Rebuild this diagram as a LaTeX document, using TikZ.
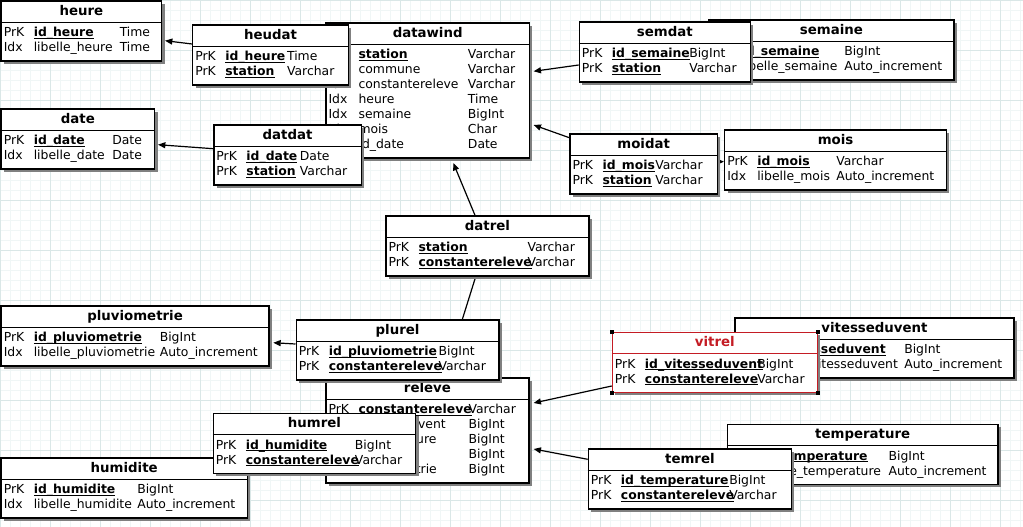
\documentclass[tikz,border=0pt]{standalone}
\usepackage{fontspec}
\setmainfont{DejaVu Sans}
\usetikzlibrary{calc,arrows.meta,shadows,positioning}
\pgfdeclarelayer{background}
\pgfdeclarelayer{edges}
\pgfsetlayers{background,edges,main}
\definecolor{gridmajor}{RGB}{218,231,231}
\definecolor{gridminor}{RGB}{240,246,246}
\definecolor{selred}{RGB}{196,28,36}
\tikzset{
  tbl/.style={line width=1pt, fill=white, inner sep=0pt,
    drop shadow={shadow xshift=2.2pt, shadow yshift=-2.2pt, fill=black!50, opacity=1}},
  tbl title/.style={anchor=base, inner sep=0pt, font=\bfseries},
  tbl text/.style={anchor=base west, inner sep=0pt},
  fk/.style={line width=0.9pt, -{Triangle[length=5.5pt, width=4.5pt]}},
}
\newcommand{\pkname}[1]{\setbox0\hbox{\bfseries #1}\rlap{\rule[-1.5pt]{\wd0}{0.6pt}}\box0}
\newcommand{\ertable}[9][black]{%
  \node[tbl, draw=#1, minimum width=#5*0.75pt, minimum height={(30+15*#6)*0.75pt}, anchor=north west] (#2) at (#3,#4) {};
  \draw[line width=1pt, #1] ($(#2.north west)+(0,22)$) -- ($(#2.north east)+(0,22)$);
  \node[tbl title, text=#1] (#2-title) at ($(#2.north)+(0,15.2)$) {#7};
  \foreach \kpre/\kfld/\ktyp [count=\rw] in {#9} {
    \node[tbl text] (#2-pre\rw) at ($(#2.north west)+(3,21.3+15*\rw)$) {\kpre};
    \node[tbl text] (#2-fld\rw) at ($(#2.north west)+(33,21.3+15*\rw)$) {\kfld};
    \node[tbl text] (#2-typ\rw) at ($(#2.north west)+(#8,21.3+15*\rw)$) {\ktyp};
  }
}

\begin{document}
\begin{tikzpicture}[x=0.75pt, y=-0.75pt, font=\fontsize{9.3}{11}\selectfont]
\useasboundingbox (0,0) rectangle (1023,527);
\begin{pgfonlayer}{background}
  \fill[white] (0,0) rectangle (1023,527);
  \foreach \g in {0,10,...,1020} \draw[gridminor, line width=0.5pt] (\g,0) -- (\g,527);
  \foreach \g in {0,10,...,520} \draw[gridminor, line width=0.5pt] (0,\g) -- (1023,\g);
  \foreach \g in {0,50,...,1000} \draw[gridmajor, line width=0.6pt] (\g,0) -- (\g,527);
  \foreach \g in {0,50,...,500} \draw[gridmajor, line width=0.6pt] (0,\g) -- (1023,\g);
\end{pgfonlayer}

\ertable{heure}{0.5}{0.5}{160.5}{2}{heure}{119}{PrK/\pkname{id\_heure}/Time, Idx/libelle\_heure/Time}
\ertable{date}{0.5}{108.3}{153.5}{2}{date}{111.5}{PrK/\pkname{id\_date}/Date, Idx/libelle\_date/Date}
\ertable{datawind}{325.3}{22.3}{203.4}{7}{datawind}{142.4}{PrK/\pkname{station}/Varchar, Idx/commune/Varchar, Idx/constantereleve/Varchar, Idx/heure/Time, Idx/semaine/BigInt, Idx/mois/Char, Idx/id\_date/Date}
\ertable{heudat}{192.1}{24.3}{155.7}{2}{heudat}{94.7}{PrK/\pkname{id\_heure}/Time, PrK/\pkname{station}/Varchar}
\ertable{datdat}{213.2}{124.3}{147.3}{2}{datdat}{86.4}{PrK/\pkname{id\_date}/Date, PrK/\pkname{station}/Varchar}
\ertable{semaine}{708.3}{19.3}{245}{2}{semaine}{135.7}{PrK/\pkname{id\_semaine}/BigInt, Idx/libelle\_semaine/Auto\_increment}
\ertable{semdat}{578.7}{21.3}{171}{2}{semdat}{110.3}{PrK/\pkname{id\_semaine}/BigInt, PrK/\pkname{station}/Varchar}
\ertable{moidat}{569.3}{133.3}{147.4}{2}{moidat}{85.7}{PrK/\pkname{id\_mois}/Varchar, PrK/\pkname{station}/Varchar}
\ertable{mois}{724}{129.3}{221.7}{2}{mois}{112}{PrK/\pkname{id\_mois}/Varchar, Idx/libelle\_mois/Auto\_increment}
\ertable{datrel}{385.3}{215.3}{203}{2}{datrel}{142}{PrK/\pkname{station}/Varchar, PrK/\pkname{constantereleve}/Varchar}
\ertable{pluviometrie}{0.5}{305.3}{267.8}{2}{pluviometrie}{159}{PrK/\pkname{id\_pluviometrie}/BigInt, Idx/libelle\_pluviometrie/Auto\_increment}
\ertable{releve}{325.3}{377.3}{203}{5}{releve}{143}{PrK/\pkname{constantereleve}/Varchar, Idx/vitesseduvent/BigInt, Idx/temperature/BigInt, Idx/humidite/BigInt, Idx/pluviometrie/BigInt}
\ertable{plurel}{295.5}{319.3}{202.8}{2}{plurel}{142.8}{PrK/\pkname{id\_pluviometrie}/BigInt, PrK/\pkname{constantereleve}/Varchar}
\ertable{humidite}{0.5}{457.3}{246.1}{2}{humidite}{136.5}{PrK/\pkname{id\_humidite}/BigInt, Idx/libelle\_humidite/Auto\_increment}
\ertable{humrel}{212.5}{412.7}{202.5}{2}{humrel}{142.2}{PrK/\pkname{id\_humidite}/BigInt, PrK/\pkname{constantereleve}/Varchar}
\ertable{vitesseduvent}{734.3}{317.3}{279}{2}{vitesseduvent}{169.7}{PrK/\pkname{id\_vitesseduvent}/BigInt, Idx/libelle\_vitesseduvent/Auto\_increment}
\ertable[selred]{vitrel}{611.7}{331.7}{205}{2}{vitrel}{145.3}{PrK/\pkname{id\_vitesseduvent}/BigInt, PrK/\pkname{constantereleve}/Varchar}
\foreach \c in {north west,north east,south west,south east} \fill (vitrel.\c) +(-2,-2) rectangle +(2,2);
\ertable{temperature}{726.7}{423.7}{270.6}{2}{temperature}{161.6}{PrK/\pkname{id\_temperature}/BigInt, Idx/libelle\_temperature/Auto\_increment}
\ertable{temrel}{587.7}{448.3}{203}{2}{temrel}{141.3}{PrK/\pkname{id\_temperature}/BigInt, PrK/\pkname{constantereleve}/Varchar}

\begin{pgfonlayer}{edges}
  \draw[fk] ($(heudat.north west)+(0,19.7)$) -- ($(heure.north east)+(2.7,40.2)$);
  \draw[fk] ($(datdat.north west)+(0,24.4)$) -- ($(date.north east)+(2.7,36.4)$);
  \draw[fk] ($(semdat.north west)+(0,43.7)$) -- ($(datawind.north east)+(3.6,49)$);
  \draw[fk] ($(moidat.north west)+(0,4.4)$) -- ($(datawind.north east)+(3.6,102.7)$);
  \draw[fk] ($(moidat.north east)+(0,28.4)$) -- ($(mois.north west)+(0,32.4)$);
  \draw[fk] ($(datrel.north west)+(89.7,0)$) -- ($(datawind.south west)+(128,4.4)$);
  \draw[fk] ($(datrel.south west)+(90.4,0)$) -- ($(releve.north west)+(118.9,0)$);
  \draw[fk] ($(plurel.north west)+(0,24.7)$) -- ($(pluviometrie.north east)+(3.7,37.4)$);
  \draw[fk] ($(vitrel.north west)+(0,54.3)$) -- ($(releve.north east)+(4,25.7)$);
  \draw[fk] ($(temrel.north west)+(0,11)$) -- ($(releve.north east)+(4,71.7)$);
\end{pgfonlayer}
\end{tikzpicture}
\end{document}
